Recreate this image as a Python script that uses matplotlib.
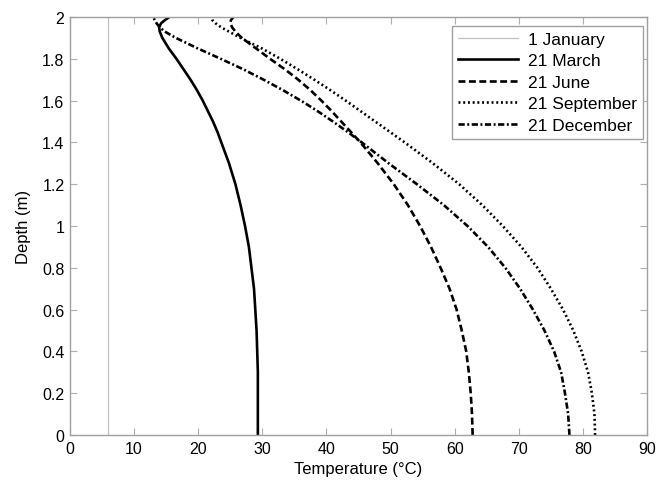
import matplotlib
matplotlib.use("Agg")
import matplotlib.pyplot as plt
import numpy as np

plt.rcParams['font.family'] = ['Liberation Sans', 'DejaVu Sans']
plt.rcParams['lines.scale_dashes'] = False

# depth grid (m)
depth = [0, 0.1, 0.2, 0.3, 0.4, 0.5, 0.6, 0.7, 0.8, 0.9, 1.0, 1.1, 1.2, 1.3, 1.4,
         1.45, 1.5, 1.55, 1.6, 1.65, 1.7, 1.75, 1.8, 1.85, 1.9, 1.93, 1.95, 1.97, 1.985, 2.0]

# temperatures (°C)
t_jan = [5.9] * len(depth)
t_mar = [29.3, 29.3, 29.3, 29.3, 29.2, 29.1, 28.9, 28.7, 28.3, 27.9, 27.3, 26.6, 25.8, 24.8, 23.6,
         23.0, 22.3, 21.5, 20.7, 19.8, 18.8, 17.7, 16.6, 15.4, 14.4, 14.0, 13.9, 14.2, 14.8, 15.5]
t_jun = [62.8, 62.7, 62.5, 62.2, 61.8, 61.1, 60.3, 59.2, 57.8, 56.3, 54.6, 52.7, 50.5, 48.0, 45.3,
         43.8, 42.3, 40.8, 39.2, 37.5, 35.6, 33.5, 31.2, 29.0, 26.8, 25.8, 25.3, 25.0, 25.1, 25.5]
t_sep = [81.9, 81.8, 81.4, 80.8, 79.8, 78.5, 76.9, 75.0, 72.9, 70.4, 67.5, 64.3, 60.7, 56.6, 52.2,
         49.9, 47.6, 45.3, 43.0, 40.6, 38.1, 35.5, 32.8, 29.9, 26.6, 24.8, 23.6, 22.7, 22.2, 22.0]
t_dec = [77.9, 77.7, 77.2, 76.6, 75.5, 74.0, 72.2, 70.2, 67.9, 65.2, 62.0, 58.3, 54.1, 49.7, 45.5,
         43.3, 41.0, 38.6, 36.0, 33.2, 30.2, 27.0, 23.5, 19.9, 16.5, 14.8, 14.0, 13.5, 13.2, 13.0]

labels = ['1 January', '21 March', '21 June', '21 September', '21 December']

fig = plt.figure(figsize=(6.68, 4.81), dpi=100)
ax = fig.add_axes([0.1048, 0.0936, 0.8638, 0.869])

ax.plot(t_jan, depth, color='#c0c0c0', lw=0.9, label=labels[0])
ax.plot(t_mar, depth, color='black', lw=1.9, label=labels[1])
ax.plot(t_jun, depth, color='black', lw=1.9, dashes=(5, 2.5), label=labels[2])
ax.plot(t_sep, depth, color='black', lw=1.9, dashes=(1.4, 2.0), label=labels[3])
ax.plot(t_dec, depth, color='black', lw=1.9, dashes=(4.5, 1.8, 1.4, 1.8), label=labels[4])

ax.set_xlim(0, 90)
ax.set_ylim(0, 2)
ax.set_xticks(np.arange(0, 91, 10))
ax.set_yticks(np.arange(0, 2.01, 0.2))
ax.set_yticklabels(['0', '0.2', '0.4', '0.6', '0.8', '1', '1.2', '1.4', '1.6', '1.8', '2'])

for s in ax.spines.values():
    s.set_color('#a0a0a0')
    s.set_linewidth(1.0)
ax.tick_params(direction='in', top=True, right=True, length=5, width=0.8,
               color='#b0b0b0', labelsize=11.5, labelcolor='black', pad=4)

ax.set_xlabel('Temperature (°C)', fontsize=12, labelpad=4)
ax.set_ylabel('Depth (m)', fontsize=12, labelpad=8)

leg = ax.legend(loc='upper right', bbox_to_anchor=(0.993, 0.979), borderaxespad=0,
                fontsize=12.5, handlelength=3.5, labelspacing=0.36,
                fancybox=False, framealpha=1, handletextpad=0.55, borderpad=0.35)
leg.get_frame().set_edgecolor('#a0a0a0')
leg.get_frame().set_linewidth(1.0)

fig.savefig('out.png', dpi=100)
